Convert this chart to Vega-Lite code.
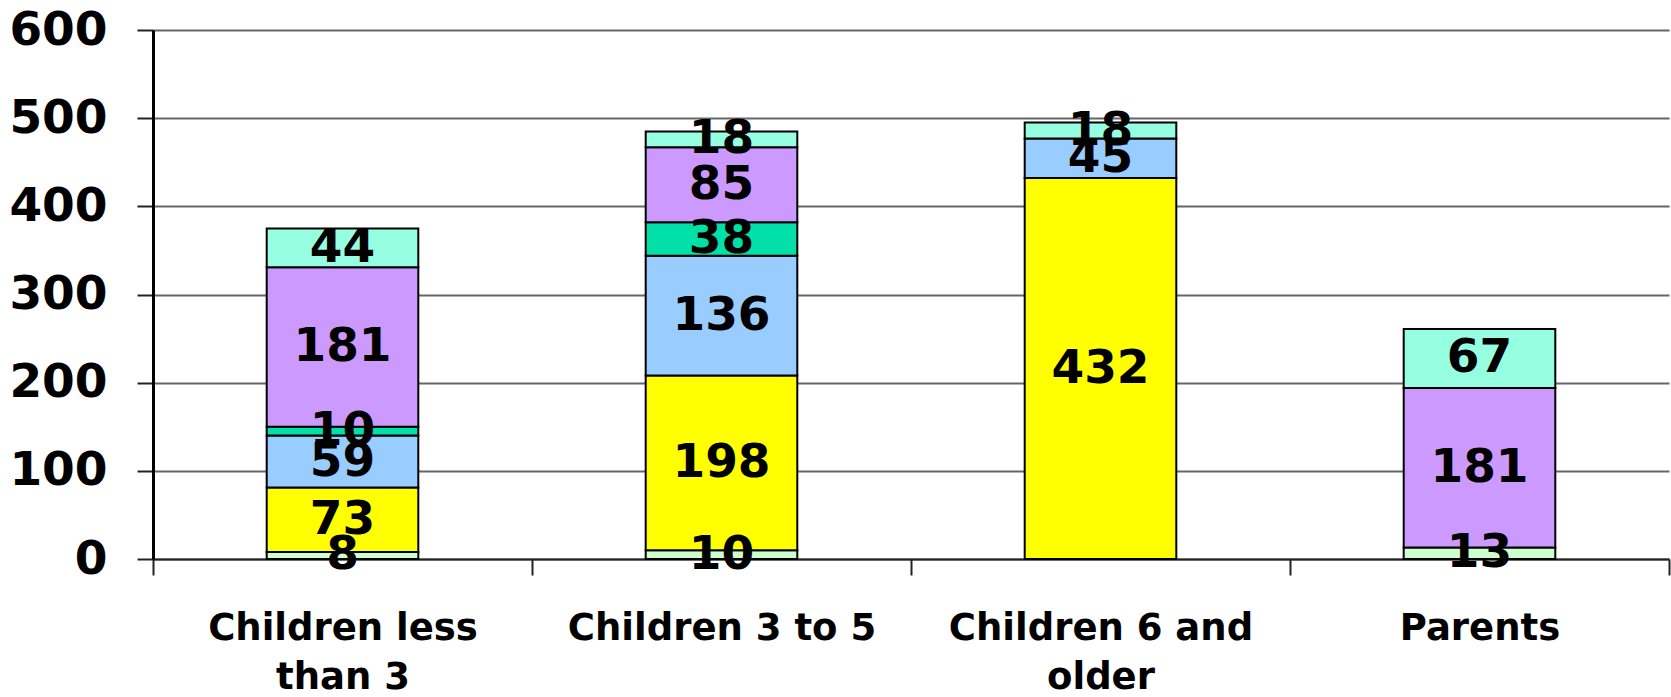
{
  "$schema": "https://vega.github.io/schema/vega-lite/v6.json",
  "autosize": "none",
  "width": 1516,
  "height": 529,
  "padding": {"left": 153, "top": 30, "right": 2, "bottom": 138},
  "background": "white",
  "config": {"view": {"stroke": null}, "font": "DejaVu Sans"},
  "data": {"values": [
    {"group": "Children less|than 3", "series": "Series 1", "ord": 1, "value": 8},
    {"group": "Children less|than 3", "series": "Series 2", "ord": 2, "value": 73},
    {"group": "Children less|than 3", "series": "Series 3", "ord": 3, "value": 59},
    {"group": "Children less|than 3", "series": "Series 4", "ord": 4, "value": 10},
    {"group": "Children less|than 3", "series": "Series 5", "ord": 5, "value": 181},
    {"group": "Children less|than 3", "series": "Series 6", "ord": 6, "value": 44},
    {"group": "Children 3 to 5", "series": "Series 1", "ord": 1, "value": 10},
    {"group": "Children 3 to 5", "series": "Series 2", "ord": 2, "value": 198},
    {"group": "Children 3 to 5", "series": "Series 3", "ord": 3, "value": 136},
    {"group": "Children 3 to 5", "series": "Series 4", "ord": 4, "value": 38},
    {"group": "Children 3 to 5", "series": "Series 5", "ord": 5, "value": 85},
    {"group": "Children 3 to 5", "series": "Series 6", "ord": 6, "value": 18},
    {"group": "Children 6 and|older", "series": "Series 2", "ord": 2, "value": 432},
    {"group": "Children 6 and|older", "series": "Series 3", "ord": 3, "value": 45},
    {"group": "Children 6 and|older", "series": "Series 6", "ord": 6, "value": 18},
    {"group": "Parents", "series": "Series 1", "ord": 1, "value": 13},
    {"group": "Parents", "series": "Series 5", "ord": 5, "value": 181},
    {"group": "Parents", "series": "Series 6", "ord": 6, "value": 67}
  ]},
  "transform": [
    {"stack": "value", "groupby": ["group"], "sort": [{"field": "ord", "order": "ascending"}], "as": ["y0", "y1"]},
    {"calculate": "(datum.y0 + datum.y1) / 2", "as": "ymid"}
  ],
  "encoding": {
    "x": {
      "field": "group", "type": "nominal", "sort": null,
      "scale": {"paddingInner": 0, "paddingOuter": 0},
      "axis": {
        "title": null, "labelAngle": 0, "labelExpr": "split(datum.label, '|')",
        "labelFont": "DejaVu Sans", "labelFontWeight": "bold", "labelFontSize": 37, "labelColor": "black",
        "labelLineHeight": 49, "labelPadding": 35, "labelBaseline": "top", "labelLimit": 0,
        "tickBand": "extent", "tickSize": 16, "tickColor": "#222", "tickWidth": 2,
        "domainColor": "#222", "domainWidth": 2, "grid": false
      }
    }
  },
  "layer": [
    {
      "mark": {"type": "bar", "stroke": "black", "strokeWidth": 2, "width": {"band": 0.4}},
      "encoding": {
        "y": {"field": "y0", "type": "quantitative",
          "scale": {"domain": [0, 600], "nice": false},
          "axis": {
            "title": null, "values": [0, 100, 200, 300, 400, 500, 600],
            "labelFont": "DejaVu Sans", "labelFontWeight": "bold", "labelFontSize": 47, "labelColor": "black",
            "labelPadding": 30, "tickSize": 16, "tickColor": "#222", "tickWidth": 2,
            "domainColor": "black", "domainWidth": 3,
            "gridColor": "#666", "gridWidth": 2
          }
        },
        "y2": {"field": "y1"},
        "color": {"field": "series", "type": "nominal", "legend": null,
          "scale": {"domain": ["Series 1", "Series 2", "Series 3", "Series 4", "Series 5", "Series 6"],
            "range": ["#CCFFCC", "#FFFF00", "#99CCFF", "#00E0A8", "#CC99FF", "#96FFE2"]}}
      }
    },
    {
      "mark": {"type": "text", "font": "DejaVu Sans", "fontWeight": "bold", "fontSize": 47, "color": "black", "baseline": "middle", "align": "center"},
      "encoding": {
        "y": {"field": "ymid", "type": "quantitative"},
        "text": {"field": "value", "type": "quantitative"}
      }
    }
  ]
}
